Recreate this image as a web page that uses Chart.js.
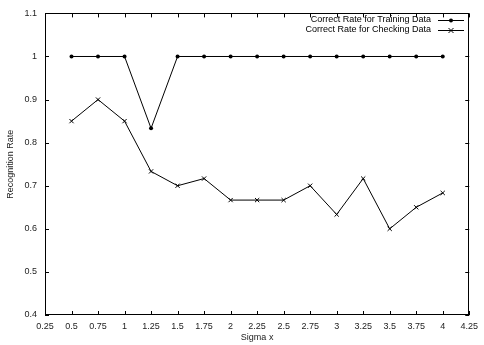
<!DOCTYPE html>
<html><head><meta charset="utf-8">
<script src="https://cdn.jsdelivr.net/npm/chart.js@4/dist/chart.umd.min.js"></script>
<style>html,body{margin:0;padding:0;background:#fff}#wrap{width:484px;height:345px}</style>
</head><body><div id="wrap"><canvas id="c" width="484" height="345"></canvas></div>
<script>
const sigmaX = [0.5,0.75,1,1.25,1.5,1.75,2,2.25,2.5,2.75,3,3.25,3.5,3.75,4];
const trainingRate = [1,1,1,0.8333,1,1,1,1,1,1,1,1,1,1,1];
const checkingRate = [0.85,0.9,0.85,0.7333,0.7,0.7167,0.6667,0.6667,0.6667,0.7,0.6333,0.7167,0.6,0.65,0.6833];
const xTicks = [0.25,0.5,0.75,1,1.25,1.5,1.75,2,2.25,2.5,2.75,3,3.25,3.5,3.75,4,4.25];
const xTickLabels = ["0.25","0.5","0.75","1","1.25","1.5","1.75","2","2.25","2.5","2.75","3","3.25","3.5","3.75","4","4.25"];
const yTicks = [0.4,0.5,0.6,0.7,0.8,0.9,1,1.1];
const yTickLabels = ["0.4","0.5","0.6","0.7","0.8","0.9","1","1.1"];
const seriesLabels = ["Correct Rate for Training Data","Correct Rate for Checking Data"];

const FONT = "'Liberation Sans', Arial, sans-serif";
Chart.defaults.font.family = FONT;
Chart.defaults.font.size = 9;
Chart.defaults.color = '#222';

const frame = {
  id:'frame',
  afterDatasetsDraw(chart){
    const {ctx, chartArea:a, scales} = chart;
    ctx.save();
    ctx.strokeStyle='#000'; ctx.lineWidth=1;
    ctx.strokeRect(Math.round(a.left)+0.5, Math.round(a.top)+0.5, Math.round(a.right-a.left)-1, Math.round(a.bottom-a.top)-1);
    const L=4;
    ctx.beginPath();
    scales.x.ticks.forEach(t=>{
      const px=Math.round(scales.x.getPixelForValue(t.value))+0.5;
      ctx.moveTo(px,a.bottom); ctx.lineTo(px,a.bottom-L);
      ctx.moveTo(px,a.top); ctx.lineTo(px,a.top+L);
    });
    scales.y.ticks.forEach(t=>{
      const py=Math.round(scales.y.getPixelForValue(t.value))+0.5;
      ctx.moveTo(a.left,py); ctx.lineTo(a.left+L,py);
      ctx.moveTo(a.right,py); ctx.lineTo(a.right-L,py);
    });
    ctx.stroke();
    // legend
    ctx.font = "9px " + FONT;
    ctx.textAlign='right'; ctx.textBaseline='middle'; ctx.fillStyle='#000';
    const rows=[20,30];
    chart.data.datasets.forEach((ds,i)=>{
      const y=rows[i];
      ctx.fillText(ds.label, 431, y);
      ctx.beginPath(); ctx.moveTo(438,Math.round(y)+0.5); ctx.lineTo(464,Math.round(y)+0.5); ctx.stroke();
      const cx=451, cy=Math.round(y)+0.5;
      if(i===0){ ctx.beginPath(); ctx.arc(cx,cy,2,0,Math.PI*2); ctx.fill(); }
      else { ctx.beginPath(); ctx.moveTo(cx-2.5,cy-2.5); ctx.lineTo(cx+2.5,cy+2.5); ctx.moveTo(cx-2.5,cy+2.5); ctx.lineTo(cx+2.5,cy-2.5); ctx.stroke(); }
    });
    ctx.restore();
  }
};

new Chart(document.getElementById('c'), {
  type:'line',
  data:{datasets:[
    {label:seriesLabels[0], data:sigmaX.map((x,i)=>({x, y:trainingRate[i]})), borderColor:'#000', backgroundColor:'#000', borderWidth:1, pointStyle:'circle', pointRadius:2, pointBorderWidth:0, tension:0},
    {label:seriesLabels[1], data:sigmaX.map((x,i)=>({x, y:checkingRate[i]})), borderColor:'#000', backgroundColor:'#000', borderWidth:1, pointStyle:'crossRot', pointRadius:3, pointBorderWidth:1, tension:0}
  ]},
  options:{
    responsive:false, animation:false, devicePixelRatio:1,
    layout:{padding:{top:12,right:8,left:0,bottom:0}},
    plugins:{legend:{display:false}, tooltip:{enabled:false}},
    scales:{
      x:{type:'linear', min:0.25, max:4.25,
        afterBuildTicks(s){ s.ticks = xTicks.map(v=>({value:v})); },
        afterFit(s){ s.height = 30; },
        grid:{display:false, drawTicks:false}, border:{display:false},
        ticks:{padding:6, maxRotation:0, autoSkip:false, color:'#222', font:{size:9}, callback:(v,i)=>xTickLabels[i]},
        title:{display:true, text:'Sigma x', color:'#222', font:{size:9}, padding:{top:0,bottom:2}}
      },
      y:{type:'linear', min:0.4, max:1.1,
        afterBuildTicks(s){ s.ticks = yTicks.map(v=>({value:v})); },
        afterFit(s){ s.width = 45; },
        grid:{display:false, drawTicks:false}, border:{display:false},
        ticks:{padding:8, color:'#222', font:{size:9}, callback:(v,i)=>yTickLabels[i]},
        title:{display:true, text:'Recognition Rate', color:'#222', font:{size:9}, padding:{top:5,bottom:0}}
      }
    }
  },
  plugins:[frame]
});
</script></body></html>
